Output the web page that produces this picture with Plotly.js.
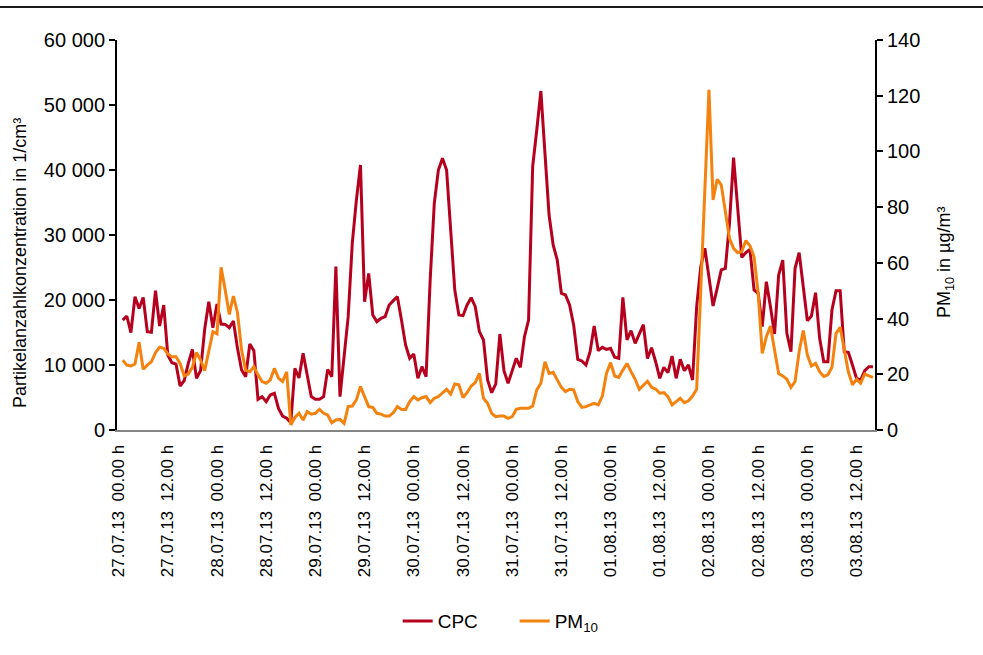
<!DOCTYPE html>
<html><head><meta charset="utf-8">
<script src="https://cdn.plot.ly/plotly-3.0.1.min.js"></script>
<style>html,body{margin:0;padding:0;background:#fff;} #chart{width:983px;height:655px;}</style>
</head><body><div id="chart"></div>
<script>
// Hourly values, starting 27.07.13 01:00 h
const cpc = [
16900,17540,14970,20510,18700,20400,15130,15030,21440,16000,
19230,11540,10360,10150,6770,7590,10260,12410,7950,9130,
15500,19740,15740,19380,16300,16250,15740,16770,12560,9230,
8200,13230,12200,4720,5130,4360,5380,5640,3330,2150,
1800,1130,9490,8000,11800,8720,5130,4720,4720,5130,
9330,8200,25130,5130,11030,17440,28720,35380,40770,19740,
24100,17690,16670,17180,17440,19230,19900,20510,16920,13080,
11030,11690,7950,9740,8200,23080,34870,40000,41800,40000,
30770,21540,17690,17590,19230,20360,18970,15130,13850,7690,
5740,7080,14770,9130,7180,8970,11030,9640,14360,16920,
40510,46150,52150,42560,33080,28460,26150,21030,20770,19230,
16150,10870,10620,10000,12050,16000,12200,12720,12410,12560,
11180,11030,20410,13850,15280,13330,14870,16200,11000,12650,
10500,7950,9640,8820,11380,7950,10870,9130,10000,7690,
18970,25130,27950,23590,19080,21790,24620,24870,31790,41900,
34360,26560,27280,27790,21540,21030,15900,22820,18970,14770,
23850,26150,14870,12050,24870,27280,22050,16820,17540,21130,
14100,10510,10510,18460,21440,21440,12050,11950,10000,7950,
7690,9130,9740,9740
];
const pm10 = [
25.1,23.3,23.0,23.7,31.5,21.8,23.3,24.5,27.8,29.7,
29.3,27.3,26.3,26.3,23.9,19.4,20.1,22.5,27.8,25.1,
21.3,28.7,35.3,34.5,58.4,50.3,41.5,48.1,42.1,28.7,
21.5,20.9,22.7,19.8,17.4,16.8,18.0,22.1,18.6,17.4,
20.9,1.8,4.5,6.0,3.6,6.6,5.7,6.0,7.4,6.0,
5.4,2.6,3.6,3.8,2.4,8.4,8.6,10.8,15.6,12.0,
8.4,8.1,6.0,5.7,5.0,5.0,6.2,8.4,7.4,7.4,
10.2,12.0,10.8,11.6,12.0,9.8,11.4,12.0,13.2,14.6,
12.9,16.5,16.2,11.7,13.4,15.8,17.0,20.3,11.4,9.6,
6.0,4.8,5.0,5.0,4.2,4.8,7.4,7.8,7.8,7.8,
8.6,14.4,16.8,24.5,20.3,20.7,18.0,15.3,13.8,14.6,
14.4,10.2,8.1,8.4,9.0,9.6,9.0,12.2,20.3,24.2,
19.4,18.9,21.5,23.9,20.9,18.2,14.6,16.0,17.5,15.3,
14.7,13.2,13.4,12.0,9.0,10.2,11.4,9.8,10.5,12.2,
14.6,50.3,87.4,122.1,82.6,90.0,88.0,77.8,68.8,65.2,
63.7,64.0,68.0,66.1,62.2,49.1,27.5,33.5,37.3,28.7,
20.3,19.4,18.2,15.3,17.4,28.1,35.7,26.9,23.0,23.9,
20.9,19.2,19.8,22.5,34.7,36.9,28.5,20.9,16.2,18.2,
16.8,20.1,19.4,18.9
];
const xTickText = [
'27.07.13\u00a0 00.00 h','27.07.13\u00a0 12.00 h','28.07.13\u00a0 00.00 h','28.07.13\u00a0 12.00 h',
'29.07.13\u00a0 00.00 h','29.07.13\u00a0 12.00 h','30.07.13\u00a0 00.00 h','30.07.13\u00a0 12.00 h',
'31.07.13\u00a0 00.00 h','31.07.13\u00a0 12.00 h','01.08.13\u00a0 00.00 h','01.08.13\u00a0 12.00 h',
'02.08.13\u00a0 00.00 h','02.08.13\u00a0 12.00 h','03.08.13\u00a0 00.00 h','03.08.13\u00a0 12.00 h'
];
const yLeftVals = [0,10000,20000,30000,40000,50000,60000];
const yLeftText = ['0','10 000','20 000','30 000','40 000','50 000','60 000'];
const yRightVals = [0,20,40,60,80,100,120,140];
const yLeftTitle = 'Partikelanzahlkonzentration in 1/cm³';
const yRightTitle = 'PM<sub>10</sub> in µg/m³';

const hours = cpc.map((_, i) => i + 1);        // hours after 27.07.13 00:00 h
const xTickVals = xTickText.map((_, i) => i * 12);

const red = '#B5001E', orange = '#F4820F';
const fam = 'Liberation Sans, Arial, sans-serif';
const tickFontY = {family: fam, size: 20, color: '#000'};
const tickFontX = {family: fam, size: 17, color: '#000'};
const titleFont = {family: fam, size: 18, color: '#000'};

const data = [
  {x: hours, y: cpc, type: 'scatter', mode: 'lines', name: 'CPC',
   line: {color: red, width: 3}, yaxis: 'y'},
  {x: hours, y: pm10, type: 'scatter', mode: 'lines', name: 'PM<sub>10</sub>',
   line: {color: orange, width: 3}, yaxis: 'y2'}
];

const layout = {
  width: 983, height: 655,
  margin: {l: 117, r: 108, t: 40, b: 225},
  paper_bgcolor: '#fff', plot_bgcolor: '#fff',
  showlegend: true,
  legend: {orientation: 'h', x: 0.3703, xanchor: 'left', y: -0.49, yanchor: 'middle',
           entrywidth: 72, entrywidthmode: 'pixels',
           font: {family: fam, size: 19, color: '#000'}},
  xaxis: {
    range: [-0.39, 184.5], tickmode: 'array', tickvals: xTickVals, ticktext: xTickText,
    tickangle: -90, tickfont: tickFontX, showgrid: false, zeroline: false,
    showline: true, linecolor: '#858585', linewidth: 2, ticks: '', ticklabelstandoff: 6
  },
  yaxis: {
    range: [0, 60000], tickmode: 'array', tickvals: yLeftVals, ticktext: yLeftText,
    tickfont: tickFontY, showgrid: false, zeroline: false,
    showline: true, linecolor: '#000', linewidth: 2, ticks: 'outside', ticklen: 6, tickwidth: 2, tickcolor: '#000'
  },
  yaxis2: {
    overlaying: 'y', side: 'right',
    range: [0, 140], tickmode: 'array', tickvals: yRightVals,
    tickfont: tickFontY, showgrid: false, zeroline: false,
    showline: true, linecolor: '#000', linewidth: 2, ticks: 'outside', ticklen: 6, tickwidth: 2, tickcolor: '#000'
  },
  annotations: [
    {text: yLeftTitle, textangle: -90, xref: 'paper', yref: 'paper',
     x: (20 - 117) / 758, y: (430 - 263) / 390, xanchor: 'center', yanchor: 'middle',
     showarrow: false, font: titleFont},
    {text: yRightTitle, textangle: -90, xref: 'paper', yref: 'paper',
     x: (945 - 117) / 758, y: (430 - 263) / 390, xanchor: 'center', yanchor: 'middle',
     showarrow: false, font: titleFont}
  ],
  shapes: [
    {type: 'line', xref: 'paper', yref: 'paper', x0: -0.16, x1: 1.15, y0: 1.0846, y1: 1.0846,
     line: {color: '#1a1a1a', width: 2}}
  ]
};

Plotly.newPlot('chart', data, layout, {displayModeBar: false, staticPlot: true});
</script>
</body></html>
